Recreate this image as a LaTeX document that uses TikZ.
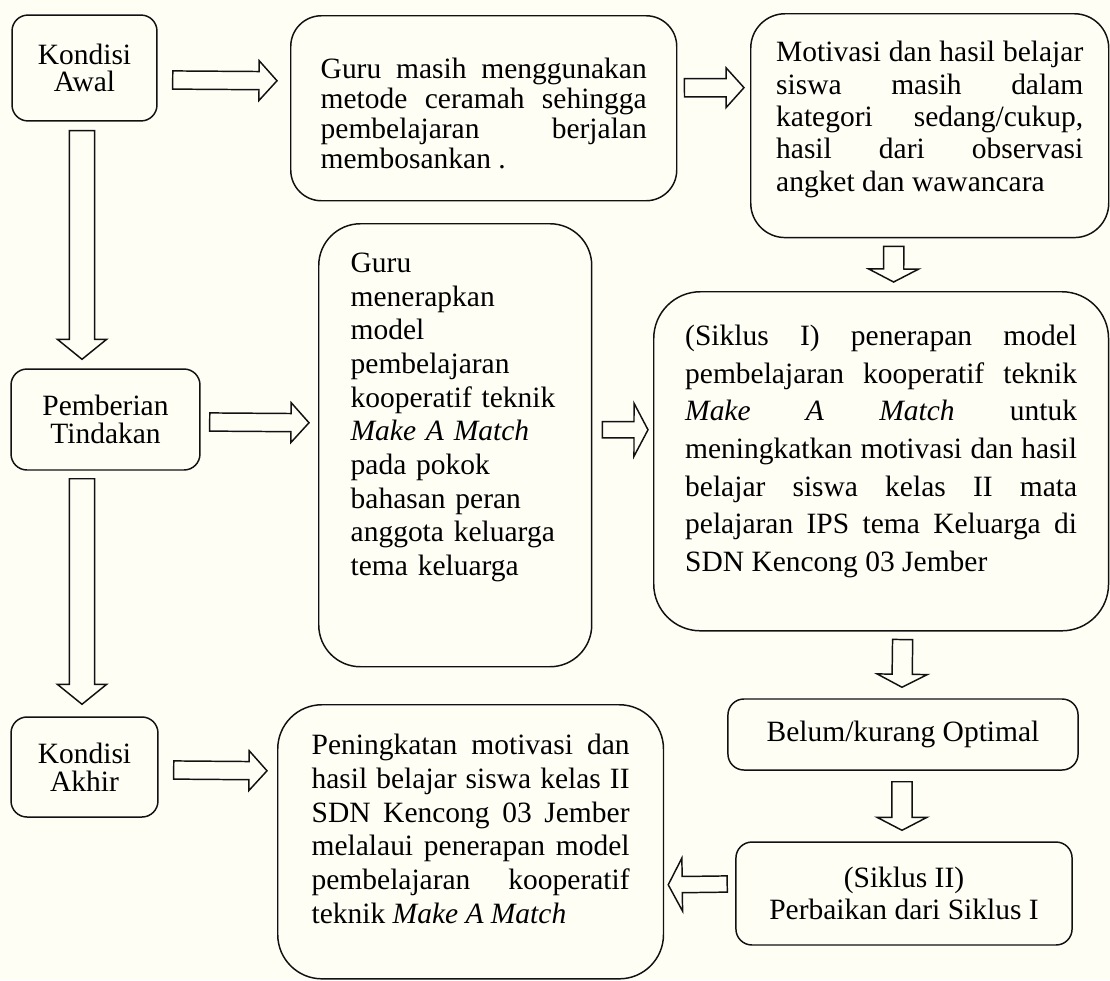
\documentclass[tikz,border=0pt]{standalone}
\usepackage{xcolor}
\usepackage{fontspec}
\setmainfont{Liberation Serif}
\usepackage{tikz}
\usetikzlibrary{
  calc
}
\definecolor{flowPaper}{HTML}{FEFEF5}
\definecolor{flowLine}{HTML}{111111}
\tolerance=10000
\hbadness=10000

\tikzset{
  box/.style={draw=flowLine, line width=0.6pt},
  smallbox/.style={box, rounded corners=6.5pt, align=center, inner sep=0pt},
  textbox/.style={box, anchor=north west, align=justify, inner ysep=0pt},
  blockarrow/.style n args={3}{draw=flowLine, line width=0.6pt,
    to path={let \p1=($(\tikztotarget)-(\tikztostart)$),
                 \n1={veclen(\x1,\y1)}, \n2={atan2(\y1,\x1)} in
      ($(\tikztostart)+(\n2+90:#1)$)
      -- ($(\tikztostart)+(\n2:\n1-#3)+(\n2+90:#1)$)
      -- ($(\tikztostart)+(\n2:\n1-#3)+(\n2+90:#2)$)
      -- (\tikztotarget)
      -- ($(\tikztostart)+(\n2:\n1-#3)+(\n2-90:#2)$)
      -- ($(\tikztostart)+(\n2:\n1-#3)+(\n2-90:#1)$)
      -- ($(\tikztostart)+(\n2-90:#1)$) -- cycle}},
  harrow/.style={blockarrow={3.7pt}{8.1pt}{7.3pt}},
  warrow/.style={blockarrow={3.3pt}{10.8pt}{5.7pt}},
  varrow/.style={blockarrow={5.1pt}{10pt}{8.1pt}},
  sarrow/.style={blockarrow={4.1pt}{10.2pt}{5.3pt}}
}

\begin{document}
\begin{tikzpicture}[x=0.407pt, y=-0.407pt, font=\fontsize{12}{13.5}\selectfont]
  \path[use as bounding box, fill=flowPaper] (0,0) rectangle (1110,980);
  \foreach \nm/\cx/\cy/\w/\h/\lsk/\txt in {awal/84.5/68/59pt/43.1pt/11pt/{Kondisi\\Awal}, pemberian/105.5/419.5/76.9pt/41.1pt/11.2pt/{Pemberian\\Tindakan}, akhir/84.5/767/59.8pt/40.7pt/11.2pt/{Kondisi\\Akhir}, belum/903/734.5/142.5pt/28.9pt/13pt/{Belum/kurang Optimal}, siklus2/904/893.5/136.8pt/41.9pt/12.8pt/{(Siklus II)\\Perbaikan dari Siklus I}}{
    \node[smallbox, minimum width=\w, minimum height=\h, font=\fontsize{12}{\lsk}\selectfont] (\nm) at (\cx,\cy) {\txt};
  }
  \node[textbox, text width=132.7pt, inner xsep=12.2pt, text height=25.6pt, text depth=49.7pt, rounded corners=12.5pt, font=\fontsize{12}{12.2}\selectfont] (guru1) at (290,15) {Guru masih menggunakan\linebreak metode ceramah sehingga\linebreak pembelajaran berjalan\linebreak membosankan .};
  \node[textbox, text width=125pt, inner xsep=10.35pt, text height=19.5pt, text depth=71.6pt, rounded corners=14pt, font=\fontsize{12}{13.2}\selectfont] (motiv) at (750,13) {Motivasi dan hasil belajar\linebreak siswa masih dalam\linebreak kategori sedang/cukup,\linebreak hasil dari observasi\linebreak angket dan wawancara};
  \node[textbox, align=left, text width=85.1pt, inner xsep=13pt, text height=19.9pt, text depth=160.4pt, rounded corners=17pt, font=\fontsize{12}{13.7}\selectfont] (guru2) at (318,223) {Guru\\menerapkan\\model\\pembelajaran\\kooperatif teknik\\\textit{Make A Match}\\pada pokok\\bahasan peran\\anggota keluarga\\tema keluarga};
  \node[textbox, text width=159.5pt, inner xsep=12.8pt, text height=22pt, text depth=116pt, rounded corners=19pt, font=\fontsize{12}{15.3}\selectfont] (siklus1) at (653,291) {(Siklus I) penerapan model\linebreak pembelajaran kooperatif teknik\linebreak \textit{Make A Match} untuk\linebreak meningkatkan motivasi dan hasil\linebreak belajar siswa kelas II mata\linebreak pelajaran IPS tema Keluarga di\linebreak SDN Kencong 03 Jember};
  \node[textbox, text width=129.4pt, inner xsep=13.8pt, text height=20.35pt, text depth=91.2pt, rounded corners=18pt, font=\fontsize{12}{13.7}\selectfont] (pening) at (277,704) {Peningkatan motivasi dan\linebreak hasil belajar siswa kelas II\linebreak SDN Kencong 03 Jember\linebreak melalaui penerapan model\linebreak pembelajaran kooperatif\linebreak teknik \textit{Make A Match}};

  \draw[harrow] ($(awal.east)+(15,12)$) to ($(guru1.west)+(-13,-27.5)$);
  \draw[harrow] ($(guru1.east)+(7,-20.5)$) to ($(motiv.west)+(-6,-38)$);
  \draw[sarrow] ($(motiv.south)+(-36,8)$) to ($(siklus1.north)+(12.5,-9)$);
  \draw[varrow] ($(awal.south)+(-2.5,9)$) to ($(pemberian.north)+(-23.5,-9)$);
  \draw[harrow] ($(pemberian.east)+(9,2.5)$) to ($(guru2.west)+(-9,-22.5)$);
  \draw[warrow] ($(guru2.east)+(10,-15.5)$) to ($(siklus1.west)+(-5,-31.5)$);
  \draw[varrow] ($(pemberian.south)+(-23.5,8)$) to ($(akhir.north)+(-2.5,-12)$);
  \draw[harrow] ($(akhir.east)+(15,3)$) to ($(pening.west)+(-10,-71)$);
  \draw[sarrow] ($(siklus1.south)+(21.5,8)$) to ($(belum.north)+(-1,-11)$);
  \draw[sarrow] ($(belum.south)+(-1,11)$) to ($(siklus2.north)+(-2,-11)$);
  \draw[warrow] ($(siklus2.west)+(-8,-9.5)$) to ($(pening.east)+(4,43)$);
\end{tikzpicture}
\end{document}
